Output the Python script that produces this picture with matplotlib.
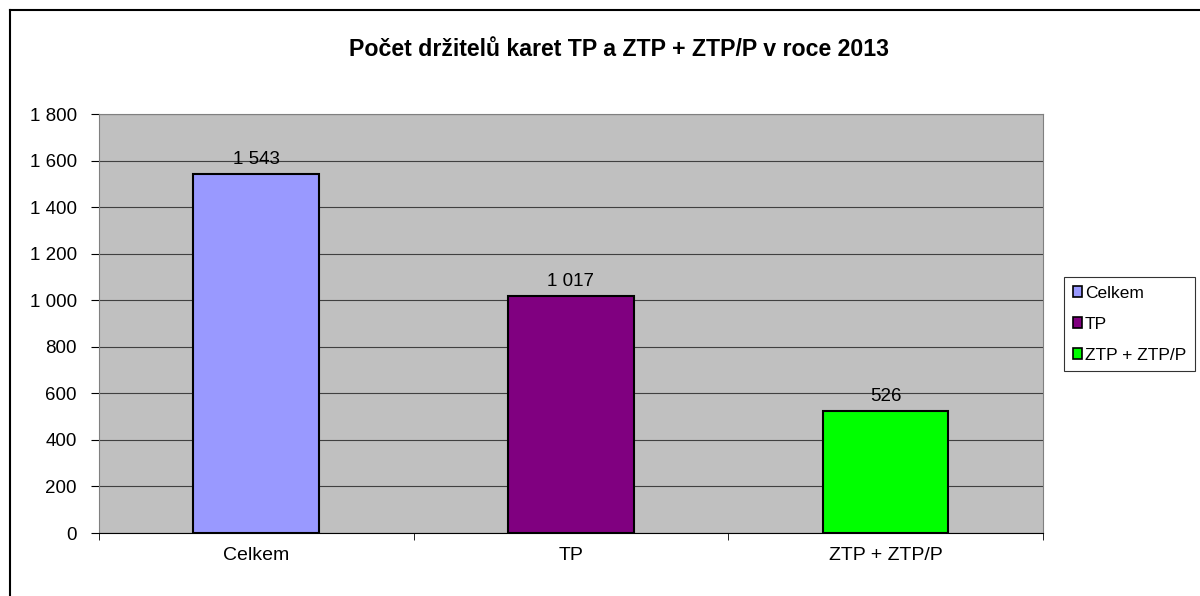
import matplotlib.pyplot as plt
from matplotlib.patches import Patch
from matplotlib.lines import Line2D

categories = ["Celkem", "TP", "ZTP + ZTP/P"]
values = [1543, 1017, 526]
colors = ["#9999FF", "#800080", "#00FF00"]
yticks = [0, 200, 400, 600, 800, 1000, 1200, 1400, 1600, 1800]


def fmt(v):
    # czech style thousands separator
    return f"{v:,}".replace(",", " ")


plt.rcParams['font.family'] = ['Liberation Sans', 'DejaVu Sans']

fig = plt.figure(figsize=(12, 5.96), dpi=100)
ax = fig.add_axes([0.0825, 0.1057, 0.7865, 0.703])
ax.set_facecolor("#C0C0C0")

x = range(len(categories))
bars = ax.bar(x, values, width=0.4, color=colors, edgecolor="black", linewidth=1.5, zorder=3)
for xi, v in zip(x, values):
    ax.text(xi, v + 25, fmt(v), ha="center", va="bottom", fontsize=13.5, zorder=4)

ax.set_xlim(-0.5, 2.5)
ax.set_ylim(0, 1800)
ax.set_yticks(yticks)
ax.set_yticklabels([fmt(t) for t in yticks], fontsize=13.5)
ax.set_xticks(x)
ax.set_xticklabels(categories, fontsize=14)
ax.set_xticks([-0.5, 0.5, 1.5, 2.5], minor=True)
ax.tick_params(axis="x", which="major", length=0, pad=10)
ax.tick_params(axis="x", which="minor", length=5, direction="out")
ax.tick_params(axis="y", length=6, direction="out", pad=10)
ax.grid(axis="y", color="#404040", linewidth=0.8, zorder=1)
for s in ["top", "right"]:
    ax.spines[s].set_color("#808080")
    ax.spines[s].set_linewidth(0.8)
ax.spines["left"].set_color("#808080")
ax.spines["bottom"].set_color("black")

fig.text(0.516, 0.917, "Počet držitelů karet TP a ZTP + ZTP/P v roce 2013",
         ha="center", va="center", fontsize=16.7, fontweight="bold")

handles = [Patch(facecolor=c, edgecolor="black", linewidth=1.2) for c in colors]
leg = fig.legend(handles, categories, loc="center left", bbox_to_anchor=(0.8867, 0.456),
                 fontsize=12.5, frameon=True, fancybox=False, handlelength=0.55, handleheight=0.55,
                 handletextpad=0.15, labelspacing=0.92, borderpad=0.5, borderaxespad=0)
leg.get_frame().set_edgecolor("black")
leg.get_frame().set_linewidth(0.8)

# outer chart border (top and left edges visible)
fig.add_artist(Line2D([10 / 1200, 1], [1 - 10 / 596, 1 - 10 / 596], color="black", linewidth=1.5,
                      transform=fig.transFigure))
fig.add_artist(Line2D([10 / 1200, 10 / 1200], [0, 1 - 10 / 596], color="black", linewidth=1.5,
                      transform=fig.transFigure))

fig.savefig("out.png", dpi=100)
